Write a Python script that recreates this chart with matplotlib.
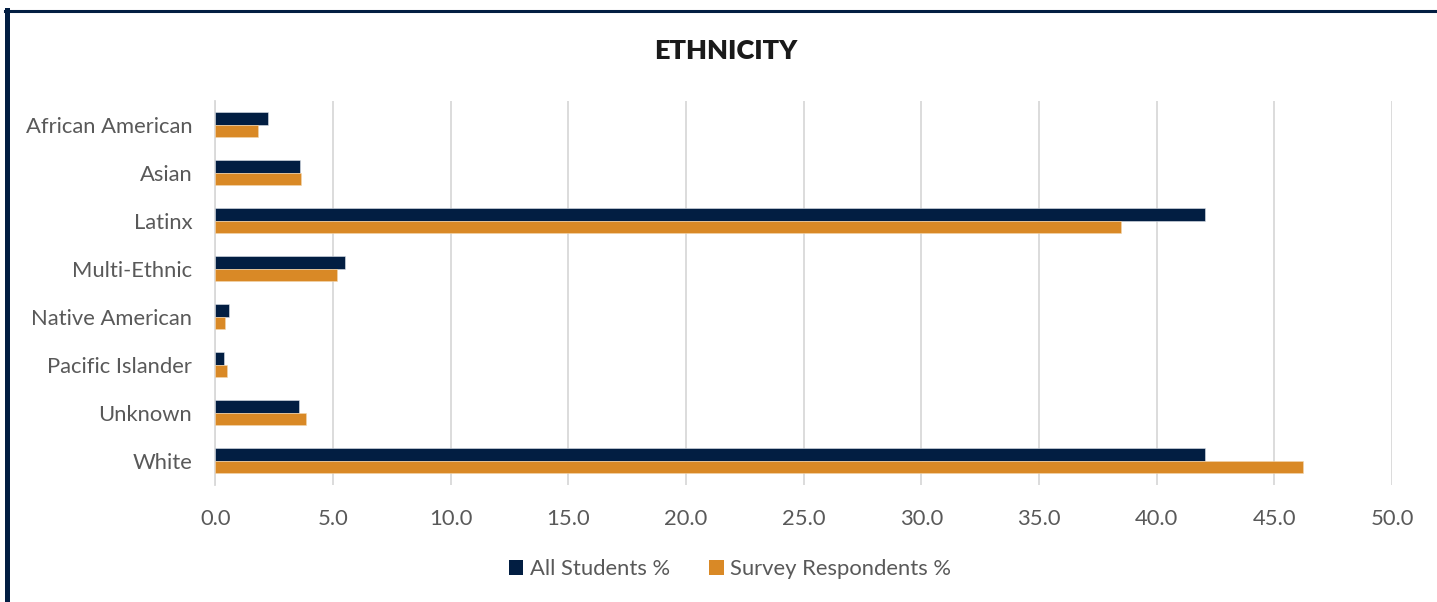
import matplotlib
matplotlib.use("Agg")
import matplotlib.pyplot as plt
import numpy as np
from matplotlib.lines import Line2D
from matplotlib.patches import Patch

categories = ["African American", "Asian", "Latinx", "Multi-Ethnic",
              "Native American", "Pacific Islander", "Unknown", "White"]
all_students = [2.26, 3.60, 42.06, 5.50, 0.57, 0.37, 3.57, 42.07]
respondents = [1.81, 3.66, 38.48, 5.16, 0.40, 0.48, 3.85, 46.20]
xticks = [0, 5, 10, 15, 20, 25, 30, 35, 40, 45, 50]

NAVY = "#021e42"
ORANGE = "#d98926"
GRID = "#d9d9d9"
TEXT = "#595959"

plt.rcParams["font.family"] = ["Lato", "DejaVu Sans"]

fig = plt.figure(figsize=(14.37, 6.02), dpi=100)
ax = fig.add_axes([0.1498, 0.1944, 0.8189, 0.6379])

y = np.arange(len(categories))
h = 0.26
ax.barh(y - h / 2, all_students, height=h, color=NAVY,
        edgecolor="#dfe3ea", linewidth=0.4, label="All Students %", zorder=3)
ax.barh(y + h / 2, respondents, height=h, color=ORANGE,
        edgecolor="#f3d7b0", linewidth=0.4, label="Survey Respondents %", zorder=3)

ax.set_xlim(0, 50)
ax.set_ylim(len(categories) - 0.5, -0.5)
ax.set_yticks(y)
ax.set_yticklabels(categories)
ax.set_xticks(xticks)
ax.set_xticklabels([f"{v:.1f}" for v in xticks])
ax.tick_params(axis="both", length=0, labelsize=15.8, labelcolor=TEXT)
ax.tick_params(axis="x", pad=17.5)
ax.tick_params(axis="y", pad=16.5)

ax.grid(axis="x", color=GRID, linewidth=1.3, zorder=0)
for side in ("top", "right", "bottom"):
    ax.spines[side].set_visible(False)
ax.spines["left"].set_color(GRID)
ax.spines["left"].set_linewidth(1.3)

fig.text(0.505, 0.915, "ETHNICITY", ha="center", va="center",
         fontsize=19.5, fontweight="heavy", color="#1a1a1a")

handles = [Patch(facecolor=NAVY, label="All Students %"),
           Patch(facecolor=ORANGE, label="Survey Respondents %")]
fig.legend(handles=handles, loc="center", bbox_to_anchor=(0.508, 0.055),
           ncol=2, frameon=False, fontsize=15.8, labelcolor=TEXT,
           handlelength=0.65, handleheight=0.65, handletextpad=0.3,
           columnspacing=1.8)

# dark frame along the top and left edges
fig.add_artist(Line2D([0.0035, 1.0], [0.9815, 0.9815], color=NAVY,
                      linewidth=2.2, transform=fig.transFigure))
fig.add_artist(Line2D([0.0052, 0.0052], [0.0, 0.9835], color=NAVY,
                      linewidth=3.6, transform=fig.transFigure))

fig.savefig("out.png", dpi=100)
